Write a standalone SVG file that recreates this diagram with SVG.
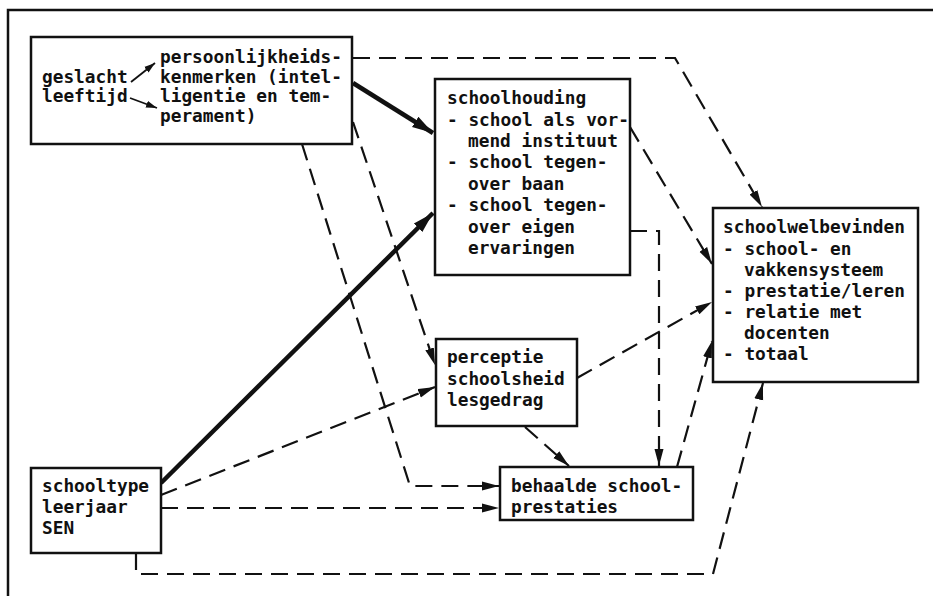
<svg xmlns="http://www.w3.org/2000/svg" width="933" height="596" viewBox="0 0 933 596">
<defs>
<style>
text{font-family:"DejaVu Sans Mono","Liberation Mono",monospace;font-size:17.8px;font-weight:bold;fill:#111}
.box{fill:#fff;stroke:#111;stroke-width:2.5}
.dash{fill:none;stroke:#111;stroke-width:2.2;stroke-dasharray:17 9}
.thick{fill:none;stroke:#111;stroke-width:4.5}
.thin{fill:none;stroke:#111;stroke-width:1.8}
</style>
<marker id="a" markerUnits="userSpaceOnUse" markerWidth="18" markerHeight="10" refX="17" refY="5" orient="auto" viewBox="0 0 18 10">
<path d="M0,0.5 L17,5 L0,9.5 Z" fill="#111"/>
</marker>
<marker id="b" markerUnits="userSpaceOnUse" markerWidth="22" markerHeight="14" refX="21" refY="7" orient="auto" viewBox="0 0 22 14">
<path d="M0,1 L21,7 L0,13 Z" fill="#111"/>
</marker>
<marker id="s" markerUnits="userSpaceOnUse" markerWidth="12" markerHeight="8" refX="11" refY="4" orient="auto" viewBox="0 0 12 8">
<path d="M0,0.5 L11,4 L0,7.5 Z" fill="#111"/>
</marker>
</defs>
<rect width="933" height="596" fill="#fff"/>
<path d="M8,596 L8,10 L933,10" fill="none" stroke="#111" stroke-width="2.5"/>

<g id="connectors">
<path class="thick" d="M353,83 L433,133" marker-end="url(#b)"/>
<path class="thick" d="M161,483 L433,213" marker-end="url(#b)"/>
<path class="dash" d="M353,58 L675,58 L762,207" marker-end="url(#a)"/>
<path class="dash" d="M302,144 L410,486 L499,486" marker-end="url(#a)"/>
<path class="dash" d="M353,122 L435,365" marker-end="url(#a)"/>
<path class="dash" d="M630,127 L712,264" marker-end="url(#a)"/>
<path class="dash" d="M630,231 L659,231 L659,466" marker-end="url(#a)"/>
<path class="dash" d="M577,378 L712,302" marker-end="url(#a)"/>
<path class="dash" d="M161,495 L435,387" marker-end="url(#a)"/>
<path class="dash" d="M161,508 L499,508" marker-end="url(#a)"/>
<path class="dash" d="M525,427 L569,466" marker-end="url(#a)"/>
<path class="dash" d="M677,467 L712,341" marker-end="url(#a)"/>
<path class="dash" d="M136,553 L136,574 L713,574 L763,383" marker-end="url(#a)"/>
</g>

<g id="persoonlijkheid">
<rect class="box" x="31" y="37" width="321" height="107"/>
<text x="42" y="83">geslacht</text>
<text x="42" y="102">leeftijd</text>
<path class="thin" d="M131,82 L155,63" marker-end="url(#s)"/>
<path class="thin" d="M130,98 L157,108" marker-end="url(#s)"/>
<text x="160" y="63">persoonlijkheids-</text>
<text x="160" y="83">kenmerken (intel-</text>
<text x="160" y="102">ligentie en tem-</text>
<text x="160" y="122">perament)</text>
</g>

<g id="schoolhouding">
<rect class="box" x="435" y="79" width="195" height="196"/>
<text x="447" y="104">schoolhouding</text>
<text x="447" y="126">- school als vor-</text>
<text x="468" y="147">mend instituut</text>
<text x="447" y="168">- school tegen-</text>
<text x="468" y="190">over baan</text>
<text x="447" y="211">- school tegen-</text>
<text x="468" y="233">over eigen</text>
<text x="468" y="254">ervaringen</text>
</g>

<g id="schoolwelbevinden">
<rect class="box" x="713" y="208" width="205" height="174"/>
<text x="723" y="233">schoolwelbevinden</text>
<text x="723" y="255">- school- en</text>
<text x="744" y="276">vakkensysteem</text>
<text x="723" y="297">- prestatie/leren</text>
<text x="723" y="318">- relatie met</text>
<text x="744" y="339">docenten</text>
<text x="723" y="360">- totaal</text>
</g>

<g id="perceptie">
<rect class="box" x="436" y="339" width="141" height="87"/>
<text x="447" y="363">perceptie</text>
<text x="447" y="385">schoolsheid</text>
<text x="447" y="406">lesgedrag</text>
</g>

<g id="behaalde">
<rect class="box" x="500" y="467" width="193" height="53"/>
<text x="511" y="492">behaalde school-</text>
<text x="511" y="513">prestaties</text>
</g>

<g id="schooltype">
<rect class="box" x="31" y="468" width="130" height="85"/>
<text x="42" y="492">schooltype</text>
<text x="42" y="513">leerjaar</text>
<text x="42" y="534">SEN</text>
</g>
</svg>
